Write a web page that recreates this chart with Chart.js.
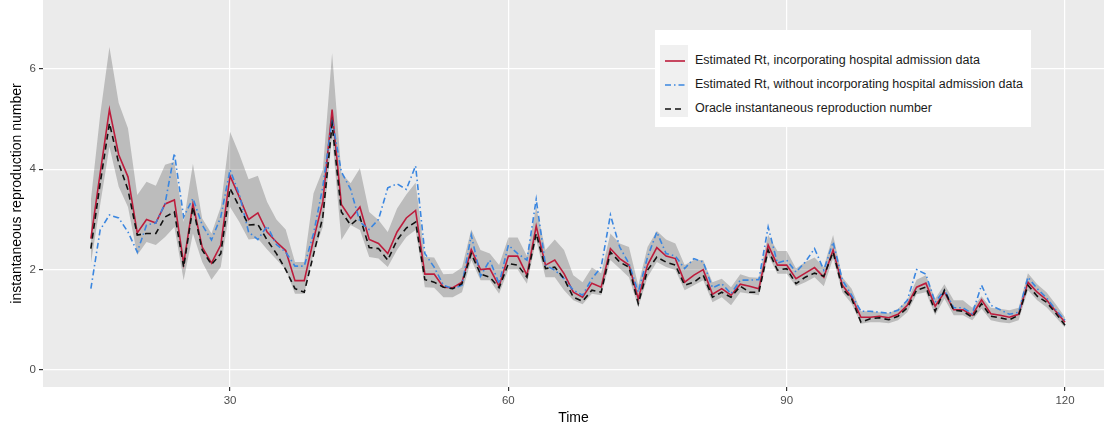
<!DOCTYPE html>
<html lang="en">
<head>
  <meta charset="UTF-8">
  <title>Estimated Rt vs oracle</title>
  <script src="https://cdn.jsdelivr.net/npm/chart.js"></script>
  <style>
    html, body { margin: 0; padding: 0; background: #fff; overflow: hidden; }
    #wrap { position: relative; width: 1104px; height: 429px; }
    #legende {
      position: absolute; left: 655px; top: 30px; width: 376px; height: 97px;
      background: #fff; font-family: "Liberation Sans", Arial, sans-serif; font-size: 12.5px; color: #1a1a1a;
    }
    #legende .cle { position: absolute; left: 5px; top: 15px; width: 28px; height: 72px; background: #f0f0f0; }
    #legende .ligne { position: absolute; left: 0; height: 24px; width: 372px; }
    #legende svg { position: absolute; left: 8px; top: 7px; }
    #legende span { position: absolute; left: 40px; top: 4px; white-space: nowrap; }
  </style>
</head>
<body>
  <div id="wrap">
    <canvas id="graphique"></canvas>
    <div id="legende">
      <div class="cle"></div>
      <div class="ligne" style="top:19px">
        <svg width="24" height="10"><line x1="2" y1="5" x2="22" y2="5" stroke="#bd1c3c" stroke-width="1.6"/></svg>
        <span>Estimated Rt, incorporating hospital admission data</span>
      </div>
      <div class="ligne" style="top:43px">
        <svg width="24" height="10"><line x1="2" y1="5" x2="22" y2="5" stroke="#3a86e0" stroke-width="1.6" stroke-dasharray="6 3 1.5 3"/></svg>
        <span>Estimated Rt, without incorporating hospital admission data</span>
      </div>
      <div class="ligne" style="top:67px">
        <svg width="24" height="10"><line x1="2" y1="5" x2="22" y2="5" stroke="#111" stroke-width="1.6" stroke-dasharray="6 4"/></svg>
        <span>Oracle instantaneous reproduction number</span>
      </div>
    </div>
  </div>

  <script>
    // time (days)
    const jours = [15, 16, 17, 18, 19, 20, 21, 22, 23, 24, 25, 26, 27, 28, 29, 30, 31, 32, 33, 34,
      35, 36, 37, 38, 39, 40, 41, 42, 43, 44, 45, 46, 47, 48, 49, 50, 51, 52, 53, 54,
      55, 56, 57, 58, 59, 60, 61, 62, 63, 64, 65, 66, 67, 68, 69, 70, 71, 72, 73, 74,
      75, 76, 77, 78, 79, 80, 81, 82, 83, 84, 85, 86, 87, 88, 89, 90, 91, 92, 93, 94,
      95, 96, 97, 98, 99, 100, 101, 102, 103, 104, 105, 106, 107, 108, 109, 110, 111, 112, 113, 114,
      115, 116, 117, 118, 119, 120];

    // Rt with hospital admissions (red)
    const rtAvecHosp = [2.62, 3.92, 5.19, 4.29, 3.85, 2.73, 3.0, 2.93, 3.31, 3.39, 2.12, 3.31, 2.45, 2.13, 2.49, 3.87, 3.45, 3.0, 3.13, 2.75,
      2.55, 2.38, 1.78, 1.78, 2.6, 3.35, 5.19, 3.3, 3.02, 3.25, 2.6, 2.52, 2.32, 2.75, 3.03, 3.18, 1.91, 1.91, 1.65, 1.64,
      1.75, 2.4, 2.0, 2.02, 1.67, 2.27, 2.27, 1.89, 2.87, 2.09, 2.19, 1.92, 1.55, 1.45, 1.73, 1.65, 2.42, 2.22, 2.09, 1.42,
      2.09, 2.44, 2.27, 2.22, 1.75, 1.89, 2.0, 1.51, 1.62, 1.49, 1.71, 1.67, 1.62, 2.49, 2.09, 2.09, 1.82, 1.93, 2.04, 1.85,
      2.39, 1.69, 1.45, 1.05, 1.05, 1.07, 1.04, 1.11, 1.29, 1.65, 1.73, 1.27, 1.55, 1.2, 1.2, 1.09, 1.4, 1.12, 1.09, 1.05,
      1.11, 1.75, 1.55, 1.4, 1.17, 0.95];

    // Rt without hospital admissions (blue)
    const rtSansHosp = [1.62, 2.79, 3.09, 3.03, 2.75, 2.35, 2.89, 2.93, 3.32, 4.32, 3.05, 3.42, 2.89, 2.59, 3.05, 3.99, 3.5, 2.75, 2.6, 2.87,
      2.5, 2.35, 2.07, 2.07, 2.72, 3.65, 4.99, 3.95, 3.6, 2.95, 2.8, 3.0, 3.63, 3.71, 3.6, 4.07, 2.32, 2.05, 1.69, 1.62,
      1.69, 2.69, 1.87, 2.19, 1.72, 2.49, 2.32, 2.19, 3.4, 2.09, 1.99, 1.82, 1.59, 1.49, 1.82, 2.05, 3.09, 2.45, 2.12, 1.55,
      2.25, 2.75, 2.32, 2.27, 2.02, 2.22, 2.15, 1.64, 1.72, 1.52, 1.79, 1.79, 1.8, 2.85, 2.13, 2.19, 1.95, 2.15, 2.42, 1.99,
      2.55, 1.79, 1.49, 1.17, 1.17, 1.15, 1.13, 1.19, 1.39, 2.0, 1.91, 1.35, 1.59, 1.24, 1.24, 1.12, 1.69, 1.29, 1.2, 1.11,
      1.15, 1.85, 1.62, 1.44, 1.2, 0.99];

    // oracle Rt (black dashed)
    const rtOracle = [2.42, 3.72, 4.92, 4.12, 3.59, 2.69, 2.72, 2.72, 3.05, 3.15, 2.05, 3.25, 2.39, 2.1, 2.32, 3.62, 3.25, 2.89, 2.9, 2.59,
      2.32, 2.0, 1.62, 1.55, 2.3, 3.05, 4.9, 3.15, 2.89, 3.05, 2.44, 2.42, 2.19, 2.59, 2.83, 2.95, 1.8, 1.75, 1.65, 1.62,
      1.72, 2.32, 1.91, 1.85, 1.64, 2.12, 2.09, 1.85, 2.72, 2.02, 2.05, 1.82, 1.45, 1.37, 1.59, 1.55, 2.35, 2.15, 2.05, 1.32,
      1.99, 2.25, 2.15, 2.09, 1.69, 1.75, 1.89, 1.45, 1.55, 1.45, 1.67, 1.55, 1.55, 2.39, 1.99, 2.02, 1.72, 1.85, 1.93, 1.87,
      2.35, 1.62, 1.42, 0.95, 1.02, 1.04, 1.0, 1.07, 1.24, 1.59, 1.65, 1.17, 1.59, 1.19, 1.17, 1.05, 1.32, 1.07, 1.04, 1.0,
      1.09, 1.69, 1.47, 1.35, 1.13, 0.89];

    // credible band
    const bandeBasse = [2.12, 3.29, 4.45, 3.65, 3.25, 2.29, 2.55, 2.49, 2.65, 2.85, 1.79, 2.72, 2.15, 1.8, 2.05, 3.25, 2.95, 2.6, 2.62, 2.4,
      2.2, 2.0, 1.52, 1.52, 2.32, 2.85, 4.65, 2.59, 2.89, 2.79, 2.25, 2.22, 2.05, 2.39, 2.65, 2.79, 1.65, 1.64, 1.45, 1.45,
      1.55, 2.19, 1.79, 1.79, 1.52, 2.0, 2.0, 1.72, 2.59, 1.85, 1.85, 1.59, 1.39, 1.31, 1.52, 1.49, 2.19, 2.02, 1.85, 1.25,
      1.85, 2.15, 2.05, 1.99, 1.59, 1.69, 1.79, 1.35, 1.45, 1.29, 1.55, 1.52, 1.49, 2.29, 1.92, 1.92, 1.67, 1.75, 1.85, 1.67,
      2.22, 1.55, 1.32, 0.92, 0.95, 0.95, 0.93, 0.99, 1.15, 1.51, 1.55, 1.09, 1.42, 1.09, 1.09, 0.99, 1.22, 0.99, 0.95, 0.93,
      0.99, 1.59, 1.39, 1.25, 1.05, 0.84];
    const bandeHaute = [3.39, 5.08, 6.44, 5.32, 4.82, 3.49, 3.75, 3.67, 4.09, 4.15, 2.95, 4.11, 3.02, 2.72, 3.25, 4.75, 4.3, 3.8, 3.87, 3.35,
      3.0, 2.8, 2.15, 2.15, 3.52, 3.99, 6.32, 3.92, 3.72, 4.02, 3.15, 2.99, 2.75, 3.22, 3.5, 3.73, 2.25, 2.24, 1.91, 1.92,
      2.04, 2.8, 2.39, 2.32, 2.09, 2.64, 2.64, 2.27, 3.25, 2.39, 2.6, 2.39, 1.89, 1.75, 2.04, 1.93, 2.72, 2.52, 2.45, 1.69,
      2.45, 2.77, 2.6, 2.52, 2.09, 2.19, 2.19, 1.75, 1.82, 1.65, 1.91, 1.85, 1.84, 2.69, 2.37, 2.37, 2.02, 2.15, 2.24, 2.05,
      2.69, 1.85, 1.62, 1.17, 1.17, 1.15, 1.13, 1.22, 1.39, 1.8, 1.89, 1.42, 1.71, 1.39, 1.39, 1.24, 1.47, 1.24, 1.22, 1.19,
      1.24, 1.93, 1.71, 1.55, 1.31, 1.05];

    const ticksX = [30, 60, 90, 120];
    const ticksY = [0, 2, 4, 6];

    const points = arr => jours.map((j, i) => ({ x: j, y: arr[i] }));

    const fondPanneau = {
      id: "fondPanneau",
      beforeDraw(chart) {
        const { ctx, chartArea: a } = chart;
        ctx.save();
        ctx.fillStyle = "#ebebeb";
        ctx.fillRect(a.left, a.top, a.right - a.left, a.bottom - a.top);
        ctx.restore();
      }
    };

    Chart.defaults.font.family = '"Liberation Sans", Arial, sans-serif';

    new Chart(document.getElementById("graphique"), {
      type: "line",
      data: {
        datasets: [
          { label: "low", data: points(bandeBasse), borderWidth: 0, pointRadius: 0, fill: false, order: 4 },
          { label: "high", data: points(bandeHaute), borderWidth: 0, pointRadius: 0, fill: "-1",
            backgroundColor: "rgba(0,0,0,0.2)", order: 3 },
          { label: "Estimated Rt, incorporating hospital admission data", data: points(rtAvecHosp),
            borderColor: "#bd1c3c", borderWidth: 1.6, pointRadius: 0, fill: false, order: 2 },
          { label: "Estimated Rt, without incorporating hospital admission data", data: points(rtSansHosp),
            borderColor: "#3a86e0", borderWidth: 1.6, borderDash: [6, 3, 1.5, 3], pointRadius: 0, fill: false, order: 1 },
          { label: "Oracle instantaneous reproduction number", data: points(rtOracle),
            borderColor: "#111", borderWidth: 1.6, borderDash: [6, 4], pointRadius: 0, fill: false, order: 0 }
        ]
      },
      options: {
        responsive: true,
        maintainAspectRatio: false,
        animation: false,
        layout: { padding: 0 },
        plugins: { legend: { display: false }, tooltip: { enabled: false } },
        scales: {
          x: {
            type: "linear",
            min: 9.84,
            max: 124.2,
            afterBuildTicks: s => { s.ticks = ticksX.map(v => ({ value: v })); },
            afterFit: s => { s.height = 42; s.paddingLeft = 0; s.paddingRight = 0; },
            grid: { color: "#fff", lineWidth: 1.2, tickColor: "#333", tickLength: 4 },
            border: { display: false },
            ticks: { color: "#4d4d4d", font: { size: 11.5 }, padding: 3 },
            title: { display: true, text: "Time", color: "#000", font: { size: 14 }, padding: { top: 0, bottom: 2 } }
          },
          y: {
            min: -0.34,
            max: 7.375,
            afterBuildTicks: s => { s.ticks = ticksY.map(v => ({ value: v })); },
            afterFit: s => { s.width = 43; s.paddingTop = 0; s.paddingBottom = 0; },
            grid: { color: "#fff", lineWidth: 1.2, tickColor: "#333", tickLength: 4 },
            border: { display: false },
            ticks: { color: "#4d4d4d", font: { size: 11.5 }, padding: 3 },
            title: { display: true, text: "instantaneous reproduction number", color: "#000", font: { size: 14 }, padding: { top: 9, bottom: 0 } }
          }
        }
      },
      plugins: [fondPanneau]
    });
  </script>
</body>
</html>
